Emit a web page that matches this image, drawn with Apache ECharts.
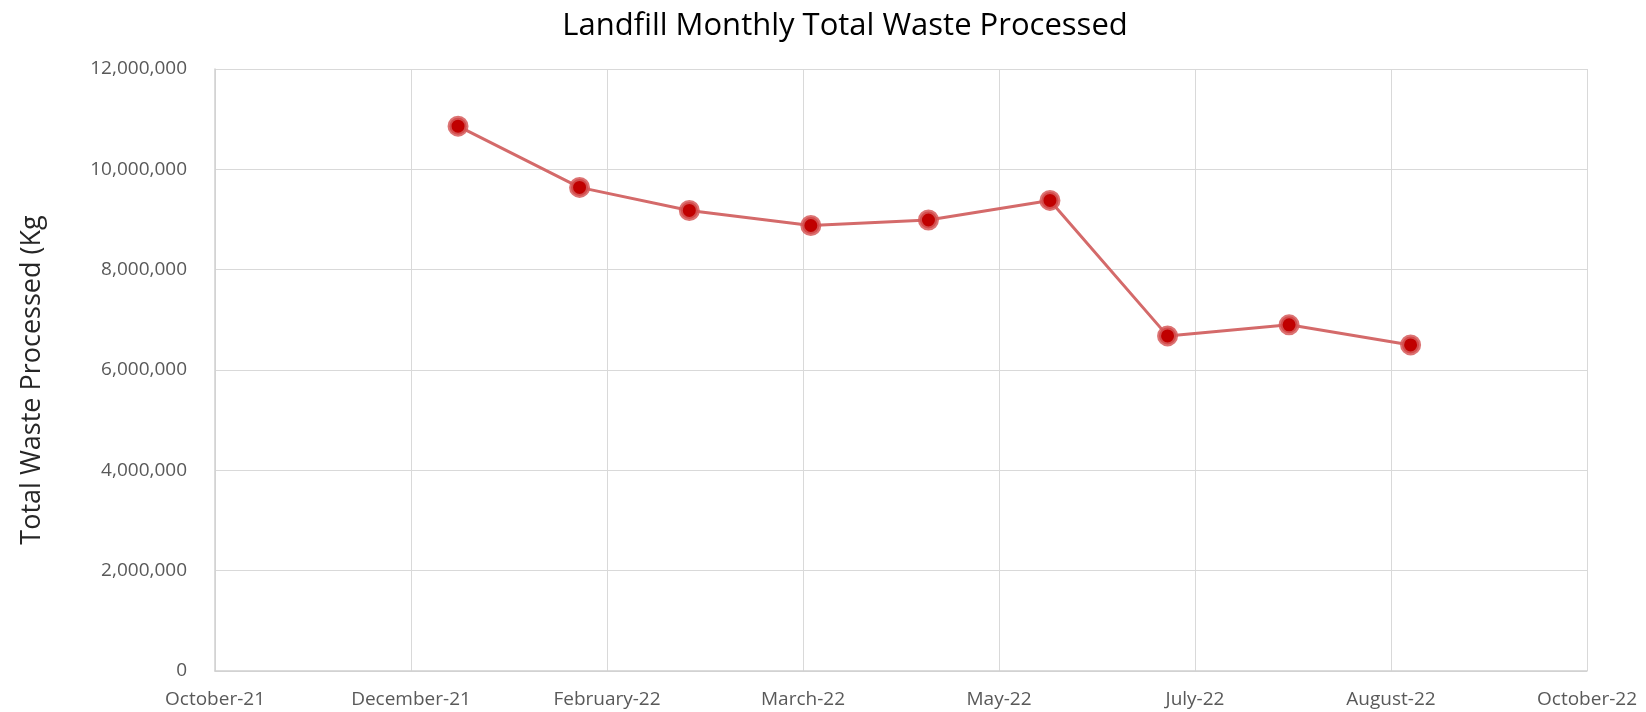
<!DOCTYPE html>
<html>
<head>
<meta charset="utf-8">
<script src="https://cdn.jsdelivr.net/npm/echarts@6/dist/echarts.min.js"></script>
<style>
html,body{margin:0;padding:0;background:#fff;}
#chart{width:1646px;height:712px;}
</style>
</head>
<body>
<div id="chart"></div>
<script>
// Data
const dates = ['2022-01-01','2022-02-01','2022-03-01','2022-04-01','2022-05-01','2022-06-01','2022-07-01','2022-08-01','2022-09-01'];
const wasteKg = [10860000, 9640000, 9180000, 8880000, 8990000, 9380000, 6680000, 6900000, 6500000];
const monthNames = ['January','February','March','April','May','June','July','August','September','October','November','December'];
const xMinSerial = 44500;  // Excel serial date (Oct 31, 2021)
const xMaxSerial = 44850;  // Oct 16, 2022
const xStepDays = 50;
const yTicks = [0, 2000000, 4000000, 6000000, 8000000, 10000000, 12000000];
const yTitle = 'Total Waste Processed (Kg';
const chartTitle = 'Landfill Monthly Total Waste Processed';

function toSerial(s){ const [y,m,d]=s.split('-').map(Number); return Date.UTC(y,m-1,d)/86400000 + 25569; }
function serialLabel(v){ const dt=new Date((v-25569)*86400000); return monthNames[dt.getUTCMonth()]+'-'+String(dt.getUTCFullYear()).slice(2); }

const points = dates.map((d,i)=>[toSerial(d), wasteKg[i]]);
const font = "'Open Sans', 'Noto Sans', sans-serif";

const chart = echarts.init(document.getElementById('chart'));
chart.setOption({
  animation:false,
  backgroundColor:'#ffffff',
  title:{
    text:chartTitle,
    left:840, top:6, textAlign:'center',
    textStyle:{fontFamily:font, fontSize:31, fontWeight:'normal', color:'#000000'}
  },
  graphic:[{
    type:'text', x:32, y:380, rotation:Math.PI/2,
    style:{text:yTitle, fontFamily:font, fontSize:27, fill:'#262626', align:'center', verticalAlign:'middle'}
  }],
  grid:{left:215, right:59, top:69, bottom:41, containLabel:false},
  xAxis:{
    type:'value', min:xMinSerial, max:xMaxSerial, interval:xStepDays,
    axisLine:{show:true, lineStyle:{color:'#D0D0D0', width:1.5}},
    axisTick:{show:false},
    splitLine:{show:true, lineStyle:{color:'#D9D9D9', width:1}},
    axisLabel:{formatter:serialLabel, margin:19, fontFamily:font, fontSize:19, color:'#595959', showMinLabel:true, showMaxLabel:true}
  },
  yAxis:{
    type:'value', min:yTicks[0], max:yTicks[yTicks.length-1], interval:yTicks[1]-yTicks[0],
    axisLine:{show:true, lineStyle:{color:'#D0D0D0', width:1.5}},
    axisTick:{show:false},
    splitLine:{show:true, lineStyle:{color:'#D9D9D9', width:1}},
    axisLabel:{formatter:v=>v.toLocaleString('en-US'), margin:28, fontFamily:font, fontSize:19, color:'#595959'}
  },
  series:[{
    type:'line',
    data:points,
    symbol:'circle',
    symbolSize:17,
    lineStyle:{color:'#D46A6A', width:3},
    itemStyle:{color:'#C00000', borderColor:'rgba(214,90,90,0.85)', borderWidth:4},
    z:5
  }]
});
</script>
</body>
</html>
